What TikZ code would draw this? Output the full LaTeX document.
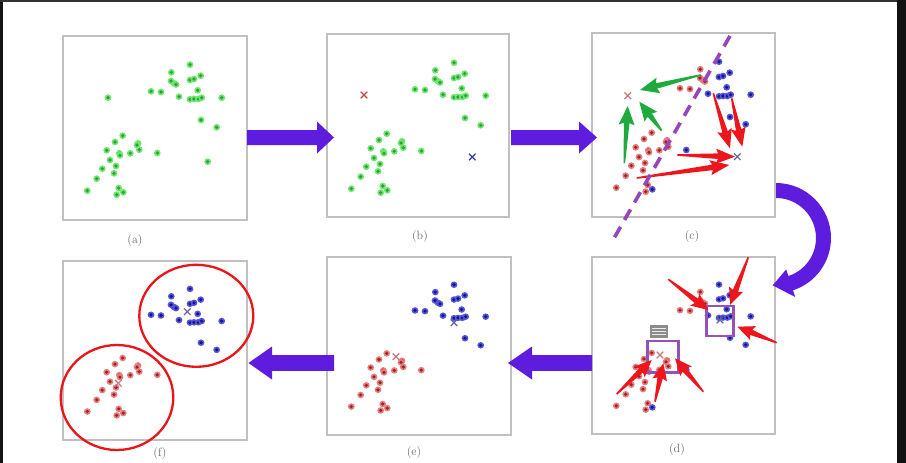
\documentclass[tikz,border=0pt]{standalone}
\usetikzlibrary{calc}
\definecolor{arrowpurple}{RGB}{94,28,222}
\definecolor{dashpurple}{RGB}{150,70,185}
\definecolor{boxpurple}{RGB}{150,80,185}
\definecolor{greenhalo}{RGB}{110,232,110}
\definecolor{greencore}{RGB}{50,155,60}
\definecolor{redhalo}{RGB}{232,125,125}
\definecolor{redcore}{RGB}{160,30,40}
\definecolor{bluehalo}{RGB}{85,85,225}
\definecolor{bluecore}{RGB}{20,20,130}
\definecolor{arrred}{RGB}{238,22,28}
\definecolor{arrgreen}{RGB}{30,170,60}
\definecolor{ringred}{RGB}{235,20,25}
\definecolor{framegray}{RGB}{192,192,192}
\definecolor{labelgray}{RGB}{105,105,105}
\definecolor{xred}{RGB}{200,64,64}
\definecolor{xblue}{RGB}{56,56,168}
\definecolor{xredl}{RGB}{200,120,120}
\definecolor{xbluel}{RGB}{100,100,165}
\definecolor{icongray}{RGB}{140,140,140}

% point lists (relative to panel top-left)
\def\TR{108.3/36.3, 111/47.3, 108/45, 113/48.5, 88/55.3, 98/56}
\def\TB{127/28.7, 127/44, 131/43, 137.7/39.7, 116/60.7, 134.7/54.3, 127/63.3, 131/63, 135.3/63, 138.7/61.7, 158.7/61.7, 138/84, 153.7/91.3}
\def\BR{59.7/99.7, 52/106, 75/107.3, 76.3/113.7, 74/109, 43.7/114.3, 56.3/117.3, 57/119.3, 67.3/117.3, 47/124, 53/130, 39.3/132.7, 51/137.3, 33.7/142.7, 24.3/154.7, 55.7/152, 53.7/158.7}
\def\BB{94.3/117, 60.3/156.3}
\def\EX{45/61.7, 144.7/125.7}

\newcommand\ptset[3]{%
  \foreach \px/\py in #3 {\fill[#1] (\px,\py) circle (3.4pt); \fill[#2] (\px,\py) circle (1.8pt);}}

\newcommand\xmk[3]{%
  \draw[#3, line width=1.2pt] (#1,#2) ++(-3.3,-3.3) -- ++(6.6,6.6) ++(-6.6,0) -- ++(6.6,-6.6);}

\newcommand\taparrow[5]{%
  \path let \p1=($(#2)-(#1)$) in \pgfextra{%
    \pgfmathsetmacro\tpang{atan2(\y1,\x1)}%
    \pgfmathsetmacro\tplen{veclen(\x1,\y1)}%
    \global\let\tpang\tpang \global\let\tplen\tplen};
  \fill[#3, shift={(#1)}, rotate=\tpang]
    (0pt,0.8pt) -- (\tplen pt-#4 pt+2pt, 2.8pt) -- (\tplen pt-#4 pt, #5pt) -- (\tplen pt, 0pt)
    -- (\tplen pt-#4 pt, -#5pt) -- (\tplen pt-#4 pt+2pt, -2.8pt) -- (0pt,-0.8pt) -- cycle;}

\begin{document}
\begin{tikzpicture}[x=1pt,y=-1pt,
  panel/.style={draw=framegray, line width=1.6pt, fill=white, inner sep=0pt, outer sep=0pt, anchor=north west},
  lab/.style={text=labelgray, font=\fontsize{12}{14}\selectfont, inner sep=0pt},
  fatarrow/.style={fill=arrowpurple},
  dashline/.style={draw=dashpurple, line width=3.6pt, dash pattern=on 12pt off 8pt},
  focusbox/.style={draw=boxpurple, line width=2.6pt},
  ring/.style={draw=ringred, line width=2.3pt}]
\useasboundingbox (0,0) rectangle (906,463);
\clip (0,0) rectangle (906,463);
\fill[white] (0,0) rectangle (906,463);

% panels
\node[panel, minimum width=184pt, minimum height=184pt] (pa) at (63,36) {};
\node[panel, minimum width=182pt, minimum height=183pt] (pb) at (327,34) {};
\node[panel, minimum width=183pt, minimum height=184pt] (pc) at (592,33) {};
\node[panel, minimum width=183pt, minimum height=177pt] (pd) at (592,257) {};
\node[panel, minimum width=184pt, minimum height=178pt] (pe) at (327,257) {};
\node[panel, minimum width=184pt, minimum height=179pt] (pf) at (63,261) {};

% labels
\node[lab] (la) at (135,241) {(a)};
\node[lab] (lb) at (420,237) {(b)};
\node[lab] (lc) at (692,237) {(c)};
\node[lab] (ld) at (677,450) {(d)};
\node[lab] (le) at (414,453) {(e)};
\node[lab] (lf) at (160,454) {(f)};

% panel (a)
\begin{scope}[shift={(63,36)}]
  \ptset{greenhalo}{greencore}{\TR}\ptset{greenhalo}{greencore}{\TB}
  \ptset{greenhalo}{greencore}{\BR}\ptset{greenhalo}{greencore}{\BB}
  \ptset{greenhalo}{greencore}{\EX}
\end{scope}
% panel (b)
\begin{scope}[shift={(327,34)}]
  \ptset{greenhalo}{greencore}{\TR}\ptset{greenhalo}{greencore}{\TB}
  \ptset{greenhalo}{greencore}{\BR}\ptset{greenhalo}{greencore}{\BB}
\end{scope}
\xmk{364}{95}{xred}
\xmk{472.3}{157}{xblue}
% panel (c)
\begin{scope}[shift={(592,33)}]
  \ptset{redhalo}{redcore}{\TR}\ptset{bluehalo}{bluecore}{\TB}
  \ptset{redhalo}{redcore}{\BR}\ptset{bluehalo}{bluecore}{\BB}
\end{scope}
\xmk{627.7}{95.7}{xredl}
\xmk{737.3}{156.7}{xbluel}
% panel (d)
\begin{scope}[shift={(592,257)}, yscale=0.962]
  \ptset{redhalo}{redcore}{\TR}\ptset{bluehalo}{bluecore}{\TB}
  \ptset{redhalo}{redcore}{\BR}\ptset{bluehalo}{bluecore}{\BB}
\end{scope}
\xmk{720}{320}{xbluel}
\xmk{660}{355}{xredl}
% panel (e)
\begin{scope}[shift={(327,257)}, yscale=0.967]
  \ptset{bluehalo}{bluecore}{\TR}\ptset{bluehalo}{bluecore}{\TB}
  \ptset{redhalo}{redcore}{\BR}\ptset{redhalo}{redcore}{\BB}
\end{scope}
\xmk{454}{322.7}{xbluel}
\xmk{396}{356.7}{xredl}
% panel (f)
\begin{scope}[shift={(63,261)}, yscale=0.973]
  \ptset{bluehalo}{bluecore}{\TR}\ptset{bluehalo}{bluecore}{\TB}
  \ptset{redhalo}{redcore}{\BR}\ptset{redhalo}{redcore}{\BB}
\end{scope}
\xmk{187.3}{311.7}{xbluel}
\xmk{118.3}{383.3}{xredl}

% arrows in (c)
\taparrow{700.7,75}{640,90}{arrgreen}{19}{8}
\taparrow{661.7,130.7}{639.3,101.7}{arrgreen}{19}{8}
\taparrow{624.3,163.3}{627.7,106}{arrgreen}{19}{8}
\taparrow{713.3,93.3}{730,148.3}{arrred}{19}{7.5}
\taparrow{731.7,98.3}{742.3,146.7}{arrred}{19}{7.5}
\taparrow{677.3,155}{735,156.7}{arrred}{19}{7.5}
\taparrow{636.7,178}{729.3,165}{arrred}{19}{7.5}
\draw[dashline] (730,36) -- (613,240);

% panel (d) focus boxes, icon and arrows
\draw[focusbox] (706.7,306) rectangle (733.3,336);
\draw[focusbox] (647.7,341) rectangle (678.3,372.7);
\fill[icongray] (650,325) rectangle (668,338);
\draw[white!85!gray, line width=0.9pt] (652,328.5) -- (666,328.5) (652,331.5) -- (666,331.5) (652,334.5) -- (666,334.5);
\taparrow{668.3,279.3}{708.3,310}{arrred}{17}{7.5}
\taparrow{748.3,257.3}{730,305}{arrred}{17}{7.5}
\taparrow{776.7,342.7}{737.3,326.7}{arrred}{17}{7.5}
\taparrow{616.7,394}{651.7,360}{arrred}{17}{7.5}
\taparrow{655,401.7}{663.3,363.3}{arrred}{17}{7.5}
\taparrow{703.3,391.7}{675,358.3}{arrred}{17}{7.5}

% rings in (f)
\draw[ring] (196.3,315.8) ellipse [x radius=57, y radius=51];
\draw[ring] (117,397.5) ellipse [x radius=56.3, y radius=52.5];

% big purple arrows
\coordinate (ab) at (247,137.5);
\coordinate (bc) at (511,137.5);
\fill[fatarrow] (ab) ++(0,-7.5) -- ++(70,0) -- ++(0,-8.5) -- ++(17,16) -- ++(-17,16) -- ++(0,-8.5) -- ++(-70,0) -- cycle;
\fill[fatarrow] (bc) ++(0,-7.5) -- ++(68,0) -- ++(0,-8.5) -- ++(18,16) -- ++(-18,16) -- ++(0,-8.5) -- ++(-68,0) -- cycle;
\coordinate (de) at (592,363);
\coordinate (ef) at (334,363);
\fill[fatarrow] (de) ++(0,-7.8) -- ++(-60,0) -- ++(0,-8.7) -- ++(-24,16.5) -- ++(24,16.5) -- ++(0,-8.7) -- ++(60,0) -- cycle;
\fill[fatarrow] (ef) ++(0,-7.8) -- ++(-62,0) -- ++(0,-8.7) -- ++(-23.5,16.5) -- ++(23.5,16.5) -- ++(0,-8.7) -- ++(62,0) -- cycle;
% curved arrow (c) -> (d)
\coordinate (cd) at (776,238);
\fill[fatarrow] (cd) ++(-90:55) arc[start angle=-90, end angle=72, radius=55]
  -- ($(cd)+(72:62)$) -- ($(cd)+(94:47.5)$) -- ($(cd)+(72:33)$) -- ($(cd)+(72:40)$)
  arc[start angle=72, end angle=-90, radius=40] -- cycle;

% dark frame edges
\fill[black!92] (0,0) rectangle (2.7,463);
\fill[black!80] (0,0) rectangle (906,2);
\fill[black!93] (897,0) rectangle (906,463);
\end{tikzpicture}
\end{document}
